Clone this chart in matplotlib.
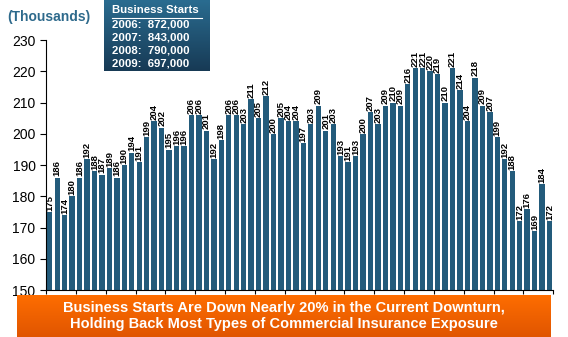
import matplotlib
matplotlib.use("Agg")
from matplotlib import pyplot as plt
import numpy as np

starts = [
    175, 186, 174, 180, 186, 192, 188, 187, 189, 186, 190, 194, 191, 199, 204, 202,
    195, 196, 196, 206, 206, 201, 192, 198, 206, 206, 203, 211, 205, 212, 200, 205,
    204, 204, 197, 203, 209, 201, 203, 193, 191, 193, 200, 207, 203, 209, 210, 209,
    216, 221, 221, 220, 219, 210, 221, 214, 204, 218, 209, 207, 199, 192, 188, 172,
    176, 169, 184, 172,
]
annual_lines = ["2006:  872,000", "2007:  843,000", "2008:  790,000", "2009:  697,000"]
y_ticks = [150, 160, 170, 180, 190, 200, 210, 220, 230]
banner = ("Business Starts Are Down Nearly 20% in the Current Downturn,\n"
          "Holding Back Most Types of Commercial Insurance Exposure")

plt.rcParams["font.family"] = ["Liberation Sans", "DejaVu Sans"]

fig = plt.figure(figsize=(5.68, 3.37), dpi=100)
ax = fig.add_axes([0.081, 0.139, 0.893, 0.742])

x = np.arange(len(starts))
ax.bar(x, starts, width=0.72, color="#235b7b")
for xi, v in zip(x, starts):
    ax.text(xi, v + 0.4, str(v), rotation=90, ha="center", va="bottom",
            fontsize=6.8, fontweight="bold", color="black")

ax.set_xlim(-0.5, len(starts) - 0.5)
ax.set_ylim(150, 230)
ax.set_yticks(y_ticks)
ax.set_yticklabels([str(t) for t in y_ticks], fontsize=10)
ax.set_xticks(np.arange(-0.5, len(starts), 4))
ax.set_xticklabels([])
ax.tick_params(axis="x", length=3, direction="out")
ax.tick_params(axis="y", length=4, direction="out")
for s in ["top", "right"]:
    ax.spines[s].set_visible(False)

fig.text(0.012, 0.97, "(Thousands)", fontsize=10, fontweight="bold",
         color="#2e6a8c", va="top", ha="left")

# dark blue info box with gradient
box_ax = fig.add_axes([0.183, 0.79, 0.186, 0.21])
grad = np.linspace(0, 1, 100).reshape(-1, 1)
top_c = np.array([0x2a, 0x6c, 0x90]) / 255
bot_c = np.array([0x17, 0x3a, 0x55]) / 255
img = top_c * (1 - grad[..., None]) + bot_c * grad[..., None]
box_ax.imshow(img, aspect="auto", extent=[0, 1, 0, 1])
box_ax.set_axis_off()
box_ax.text(0.08, 0.93, "Business Starts", fontsize=8.2, fontweight="bold",
            color="white", va="top", ha="left")
box_ax.plot([0.08, 0.93], [0.75, 0.75], color="white", lw=0.8)
for i, line in enumerate(annual_lines):
    box_ax.text(0.08, 0.72 - i * 0.18, line, fontsize=8.2, fontweight="bold",
                color="white", va="top", ha="left")
box_ax.set_xlim(0, 1)
box_ax.set_ylim(0, 1)

# orange banner
ban_ax = fig.add_axes([0.03, 0.0, 0.94, 0.125])
ograd = np.linspace(0, 1, 100).reshape(-1, 1)
o_top = np.array([0xff, 0x6e, 0x00]) / 255
o_bot = np.array([0xe0, 0x55, 0x00]) / 255
oimg = o_top * (1 - ograd[..., None]) + o_bot * ograd[..., None]
ban_ax.imshow(oimg, aspect="auto", extent=[0, 1, 0, 1])
ban_ax.set_axis_off()
ban_ax.text(0.5, 0.5, banner, fontsize=10.5, fontweight="bold", color="white",
            ha="center", va="center", linespacing=1.2)

fig.savefig("out.png", dpi=100)
